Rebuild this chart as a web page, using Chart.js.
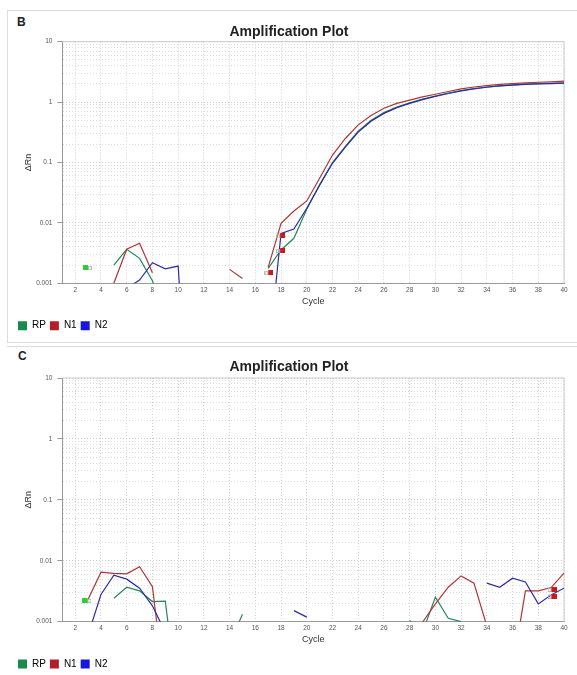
<!DOCTYPE html>
<html>
<head>
<meta charset="utf-8">
<script src="https://cdn.jsdelivr.net/npm/chart.js@4.4.0/dist/chart.umd.min.js"></script>
<style>
  body { margin: 0; background: #fff; font-family: "Liberation Sans", Arial, sans-serif; }
  .frame { position: absolute; border: 1px solid #dcdcdc; border-right: none; }
  .tag { position: absolute; font-weight: bold; font-size: 12px; color: #222; }
  canvas { position: absolute; }
</style>
</head>
<body>
<div class="frame" style="left:7px;top:10px;width:570px;height:331px;"></div>
<div class="frame" style="left:7px;top:346px;width:570px;height:340px;border-left:none;border-bottom:none;"></div>
<div class="tag" style="left:17px;top:15px;">B</div>
<div class="tag" style="left:18px;top:349px;">C</div>
<canvas id="chartB" width="570" height="333" style="left:7px;top:10px;"></canvas>
<canvas id="chartC" width="570" height="334" style="left:7px;top:346px;"></canvas>

<script>
// ===== DATA =====
const cycles = [1, 2, 3, 4, 5, 6, 7, 8, 9, 10, 11, 12, 13, 14, 15, 16, 17, 18, 19, 20,
                21, 22, 23, 24, 25, 26, 27, 28, 29, 30, 31, 32, 33, 34, 35, 36, 37, 38, 39, 40];
const cycleTicks = [2, 4, 6, 8, 10, 12, 14, 16, 18, 20, 22, 24, 26, 28, 30, 32, 34, 36, 38, 40];
const deltaRnTicks = [0.001, 0.01, 0.1, 1, 10];
const targets = ["RP", "N1", "N2"];

// plot B (null = no positive ΔRn for that cycle)
const bRP = [null, null, null, null, 0.0020, 0.00366, 0.00259, 0.0011, 0.0003, null,
             null, null, null, null, null, null, 0.00177, 0.00356, 0.00556, 0.0168,
             0.043, 0.10, 0.185, 0.33, 0.50, 0.67, 0.83, 0.97, 1.12, 1.26,
             1.41, 1.55, 1.68, 1.78, 1.86, 1.93, 1.98, 2.02, 2.05, 2.08];
const bN1 = [null, null, null, null, 0.001, 0.00366, 0.00459, 0.0015, null, null,
             null, null, null, 0.0017, 0.0012, null, 0.00184, 0.0098, 0.0157, 0.0231,
             0.055, 0.133, 0.25, 0.42, 0.60, 0.79, 0.95, 1.08, 1.22, 1.35,
             1.50, 1.65, 1.78, 1.88, 1.96, 2.02, 2.08, 2.13, 2.17, 2.22];
const bN2 = [null, null, null, null, null, 0.00083, 0.00113, 0.00219, 0.00174, 0.00193,
             0.000001, null, null, null, null, null, 0.000057, 0.0067, 0.0079, 0.0175,
             0.042, 0.097, 0.18, 0.32, 0.48, 0.65, 0.81, 0.955, 1.10, 1.24,
             1.39, 1.53, 1.66, 1.76, 1.85, 1.91, 1.96, 2.00, 2.03, 2.06];
const bGreenCtCycles = [2.95];
const bGreenCtValues = [0.00181];
const bRedCtCycles = [17.05, 17.97, 17.97];
const bRedCtValues = [0.0015, 0.00607, 0.00347];

// plot C
const cRP = [null, null, null, null, 0.00243, 0.00368, 0.00321, 0.00214, 0.00217, 0.000045,
             null, null, null, 0.00043, 0.00133, null, null, null, null, null,
             null, null, null, null, null, null, null, 0.00105, 0.00067, 0.00253,
             0.00114, 0.001, null, null, null, null, null, null, null, null];
const cN1 = [null, null, 0.00234, 0.0065, 0.0062, 0.0061, 0.0080, 0.00377, 0.000068, null,
             null, null, null, null, null, null, null, null, null, null,
             null, null, null, null, null, null, null, null, 0.00098, 0.00196,
             0.00368, 0.00565, 0.00429, 0.00085, null, 0.00017, 0.0032, 0.0032, 0.00363, 0.00626];
const cN2 = [null, null, 0.00061, 0.0028, 0.0058, 0.00499, 0.00355, 0.00182, 0.00067, null,
             null, null, null, null, null, null, null, null, 0.00152, 0.00119,
             null, null, null, null, null, null, null, null, null, null,
             null, null, null, 0.00429, 0.00368, 0.00518, 0.0045, 0.00196, 0.00275, 0.00355];
const cGreenCtCycles = [2.91];
const cGreenCtValues = [0.00225];
const cRedCtCycles = [39.07, 39.07];
const cRedCtValues = [0.0034, 0.00264];

// ===== STYLE =====
const lineColors = ["#23895b", "#b03434", "#2c2ca2"];
const swatchColors = ["#178a4c", "#b21f2a", "#1616dc"];

Chart.defaults.font.family = '"Liberation Sans", Arial, sans-serif';

// Ct marker: a filled square with a small open square beside it
function ctMarker(fill, solidOnLeft) {
  const c = document.createElement("canvas");
  c.width = 9; c.height = 5;
  const g = c.getContext("2d");
  g.fillStyle = fill;
  g.fillRect(solidOnLeft ? 0 : 4, 0, 5, 5);
  g.strokeStyle = "#b5b5b5";
  g.lineWidth = 1;
  g.strokeRect(solidOnLeft ? 5.5 : 0.5, 1.5, 3, 3);
  return c;
}

function seriesDataset(i, values) {
  return {
    label: targets[i],
    order: 3 - i,
    data: cycles.map((c, k) => ({ x: c, y: values[k] })),
    borderColor: lineColors[i],
    backgroundColor: swatchColors[i],
    legendColor: swatchColors[i],
    borderWidth: 1.2,
    pointRadius: 0,
    tension: 0,
    spanGaps: false,
    fill: false
  };
}

function ctDataset(xs, ys, image) {
  return {
    label: "",
    order: 0,
    data: xs.map((x, k) => ({ x, y: ys[k] })),
    showLine: false,
    pointStyle: image,
    pointRadius: 4
  };
}

// top and right edges of the plot box
const plotFrame = {
  id: "plotFrame",
  beforeDatasetsDraw(chart) {
    const { ctx, chartArea: a } = chart;
    ctx.save();
    ctx.strokeStyle = "#c9c9c9";
    ctx.lineWidth = 1;
    ctx.beginPath();
    ctx.moveTo(a.left, a.top);
    ctx.lineTo(a.right, a.top);
    ctx.lineTo(a.right, a.bottom);
    ctx.stroke();
    ctx.restore();
  }
};

function buildChart(id, rp, n1, n2, greenCt, redCt, fit) {
  return new Chart(document.getElementById(id), {
    type: "line",
    data: {
      datasets: [
        seriesDataset(0, rp),
        seriesDataset(1, n1),
        seriesDataset(2, n2),
        ctDataset(greenCt[0], greenCt[1], ctMarker("#2fcf2f", true)),
        ctDataset(redCt[0], redCt[1], ctMarker("#d01818", false))
      ]
    },
    plugins: [plotFrame],
    options: {
      responsive: false,
      animation: false,
      devicePixelRatio: 1,
      events: [],
      layout: { padding: { left: 7, right: 13, top: 0, bottom: fit.bottomPad } },
      scales: {
        x: {
          type: "linear",
          min: 1,
          max: 40,
          afterBuildTicks: (scale) => { scale.ticks = cycleTicks.map(v => ({ value: v })); },
          afterFit: (scale) => { scale.height = fit.xHeight; },
          ticks: {
            autoSkip: false, maxRotation: 0, padding: 0,
            color: "#555", font: { size: 6.5 },
            callback: (v) => String(v)
          },
          grid: { color: "#d2d2d2", lineWidth: 1, tickLength: 3, tickColor: "rgba(0,0,0,0)" },
          border: { color: "#9a9a9a", width: 1, dash: [1, 2] },
          title: {
            display: true, text: "Cycle", color: "#333",
            font: { size: 9 }, padding: { top: 0, bottom: fit.cyclePad }
          }
        },
        y: {
          type: "logarithmic",
          min: 0.001,
          max: 10,
          afterBuildTicks: (scale) => {
            const ticks = [];
            deltaRnTicks.forEach((d, i) => {
              ticks.push({ value: d });
              if (i < deltaRnTicks.length - 1) {
                for (let m = 2; m <= 9; m++) ticks.push({ value: d * m });
              }
            });
            scale.ticks = ticks;
          },
          afterFit: (scale) => { scale.width = 48.4; },
          ticks: {
            autoSkip: false, padding: 5,
            color: "#555", font: { size: 6.5 },
            callback: (v) => deltaRnTicks.includes(v) ? String(v) : ""
          },
          grid: {
            color: (c) => deltaRnTicks.includes(c.tick && c.tick.value) ? "#cdcdcd" : "#dedede",
            lineWidth: 1,
            tickLength: 5,
            tickColor: (c) => deltaRnTicks.includes(c.tick && c.tick.value) ? "#999" : "rgba(0,0,0,0)"
          },
          border: { color: "#9a9a9a", width: 1, dash: [1, 2] },
          title: {
            display: true, text: "ΔRn", color: "#333",
            font: { size: 9 }, padding: { top: 9.6, bottom: 0 }
          }
        }
      },
      plugins: {
        title: {
          display: true,
          text: "Amplification Plot",
          color: "#222",
          font: { size: 14, weight: "bold" },
          padding: fit.titlePad
        },
        legend: {
          position: "bottom",
          align: "start",
          labels: {
            boxWidth: 9, boxHeight: 9, padding: 4,
            color: "#333", font: { size: 10 },
            generateLabels: (chart) => chart.data.datasets
              .map((ds, i) => ({
                text: ds.label, fillStyle: ds.legendColor, strokeStyle: ds.legendColor,
                lineWidth: 0, hidden: false, datasetIndex: i
              }))
              .filter(item => item.fillStyle)
          }
        },
        tooltip: { enabled: false }
      }
    }
  });
}

// ===== INIT =====
buildChart("chartB", bRP, bN1, bN2,
  [bGreenCtCycles, bGreenCtValues], [bRedCtCycles, bRedCtValues],
  { titlePad: { top: 13.3, bottom: 1.6 }, xHeight: 33.4, cyclePad: 9.3, bottomPad: 2.3 });

buildChart("chartC", cRP, cN1, cN2,
  [cGreenCtCycles, cGreenCtValues], [cRedCtCycles, cRedCtValues],
  { titlePad: { top: 12.9, bottom: 2.3 }, xHeight: 33.3, cyclePad: 9.6, bottomPad: 1 });
</script>
</body>
</html>
